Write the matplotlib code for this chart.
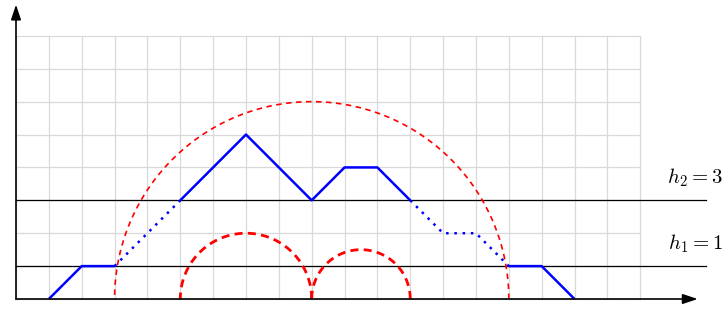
import numpy as np
import matplotlib
matplotlib.use("Agg")
import matplotlib.pyplot as plt

plt.rcParams['mathtext.fontset'] = 'cm'

# blue path segments
solid_segments = [
    ([1, 2, 3], [0, 1, 1]),
    ([5, 7, 9, 10, 11, 12], [3, 5, 3, 4, 4, 3]),
    ([15, 16, 17], [1, 1, 0]),
]
dotted_segments = [
    ([3, 5], [1, 3]),
    ([12, 13, 14, 15], [3, 2, 2, 1]),
]
# semicircles: (center, radius)
big_arc = (9, 6)
small_arcs = [(7, 2), (10.5, 1.5)]
levels = [1, 3]
level_labels = ["$h_1=1$", "$h_2=3$"]

fig = plt.figure(figsize=(7.24, 3.12), dpi=100)
ax = fig.add_axes([0, 0, 1, 1])
ax.set_xlim(-0.487, 21.55)
ax.set_ylim(-0.395, 9.09)
ax.axis('off')

# grid
for gx in range(0, 20):
    ax.plot([gx, gx], [0, 8], color='#d9d9d9', lw=0.9, zorder=0)
for gy in range(0, 9):
    ax.plot([0, 19], [gy, gy], color='#d9d9d9', lw=0.9, zorder=0)

# levels
for lv, lab in zip(levels, level_labels):
    ax.plot([0, 21], [lv, lv], color='black', lw=0.9, zorder=1)
    ax.text(21.52, lv + 0.68, lab, ha='right', va='center', fontsize=15)

# arcs
t = np.linspace(0, np.pi, 300)
c, r = big_arc
ax.plot(c + r * np.cos(t), r * np.sin(t), color='red', lw=1.2, ls=(0, (3.3, 2.7)), zorder=2)
for c, r in small_arcs:
    ax.plot(c + r * np.cos(t), r * np.sin(t), color='red', lw=2.0, ls=(0, (2.9, 1.9)), zorder=2)

# blue path
for xs, ys in solid_segments:
    ax.plot(xs, ys, color='blue', lw=1.8, zorder=3, solid_capstyle='butt')
for xs, ys in dotted_segments:
    ax.plot(xs, ys, color='blue', lw=1.8, ls=(0, (1, 2.3)), zorder=3)

# axes arrows
ax.annotate('', xy=(20.75, 0), xytext=(0, 0),
            arrowprops=dict(arrowstyle='-|>,head_length=0.9,head_width=0.3', color='black', lw=1.2,
                            shrinkA=0, shrinkB=0), zorder=4)
ax.annotate('', xy=(0, 8.95), xytext=(0, 0),
            arrowprops=dict(arrowstyle='-|>,head_length=0.9,head_width=0.3', color='black', lw=1.2,
                            shrinkA=0, shrinkB=0), zorder=4)

fig.savefig('out.png', dpi=100)
